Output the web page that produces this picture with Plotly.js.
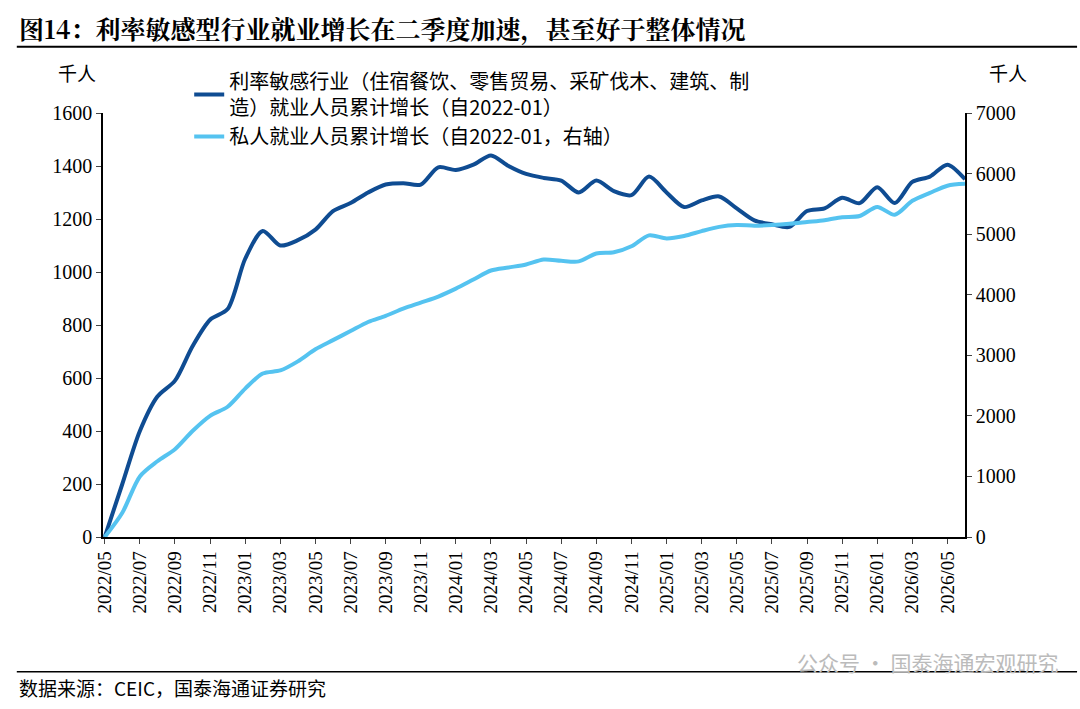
<!DOCTYPE html>
<html><head><meta charset="utf-8">
<script src="https://cdn.plot.ly/plotly-3.0.1.min.js"></script>
<style>body{margin:0;background:#fff}#chart{width:1080px;height:709px}</style>
</head><body><div id="chart"></div>
<script>
// monthly, 2022/05 .. 2026/06
const months = [];
for (let y = 2022, m = 5; y < 2026 || (y === 2026 && m <= 6); m++) {
    if (m > 12) { m = 1; y++; }
    months.push(y + '/' + String(m).padStart(2, '0'));
}
const tickLabels = months.filter((_, i) => i % 2 === 0);

const rateSensitive = [0, 200, 400, 530, 590, 720, 820, 860,
    1050, 1155, 1100, 1120, 1160, 1230, 1260, 1300, 1330, 1335, 1330, 1395,
    1385, 1405, 1440, 1400, 1370, 1355, 1345, 1300, 1345, 1305, 1290, 1360,
    1300, 1245, 1270, 1285, 1240, 1195, 1180, 1170, 1230, 1240, 1280, 1260,
    1320, 1260, 1340, 1360, 1405, 1350];
const privateTotal = [0, 400, 1000, 1250, 1450, 1750, 2000, 2150,
    2450, 2700, 2750, 2900, 3100, 3250, 3400, 3550, 3650, 3770, 3870, 3970,
    4100, 4250, 4400, 4450, 4500, 4580, 4560, 4550, 4680, 4700, 4800, 4980,
    4930, 4970, 5050, 5120, 5150, 5140, 5150, 5170, 5200, 5230, 5280, 5300,
    5450, 5320, 5550, 5680, 5800, 5830];

const font = 'Noto Sans CJK SC, Liberation Serif, serif';

const traces = [
    {x: months, y: rateSensitive, mode: 'lines', name: '利率敏感行业（住宿餐饮、零售贸易、采矿伐木、建筑、制<br>造）就业人员累计增长（自2022-01）',
     line: {color: '#0f4c92', width: 4, shape: 'spline', smoothing: 0.8}},
    {x: months, y: privateTotal, mode: 'lines', name: '私人就业人员累计增长（自2022-01，右轴）', yaxis: 'y2',
     line: {color: '#55c3f0', width: 4, shape: 'spline', smoothing: 0.8}}
];

const layout = {
    width: 1080, height: 709,
    margin: {l: 103, r: 115, t: 113, b: 172},
    paper_bgcolor: '#fff', plot_bgcolor: '#fff',
    font: {family: font, size: 19, color: '#000'},
    showlegend: true,
    legend: {x: 0.1, y: 1.12, xanchor: 'left', yanchor: 'top', bgcolor: 'rgba(0,0,0,0)', font: {size: 20}, tracegroupgap: 4},
    xaxis: {type: 'category', tickvals: tickLabels, ticktext: tickLabels, tickangle: -90,
        showline: true, linecolor: '#000', linewidth: 1.5, ticks: 'outside', ticklen: 5, showgrid: false,
        range: [-0.1, months.length - 1], tickfont: {family: 'Liberation Serif, serif', size: 19}},
    yaxis: {range: [0, 1600], dtick: 200, showline: true, linecolor: '#000', linewidth: 1.5, ticks: 'outside',
        ticklen: 5, showgrid: false, zeroline: false, tickfont: {family: 'Liberation Serif, serif', size: 20}},
    yaxis2: {range: [0, 7000], dtick: 1000, overlaying: 'y', side: 'right', showline: true, linecolor: '#000',
        linewidth: 1.5, ticks: 'outside', ticklen: 5, showgrid: false, zeroline: false,
        tickfont: {family: 'Liberation Serif, serif', size: 20}},
    annotations: [
        {xref: 'paper', yref: 'paper', x: -0.1, y: 0.2, xanchor: 'left', yanchor: 'middle', showarrow: false,
         text: '<b>图14：利率敏感型行业就业增长在二季度加速，甚至好于整体情况</b>', font: {size: 25, family: 'Noto Serif CJK SC, Noto Sans CJK SC, serif'}},
        {xref: 'paper', yref: 'paper', x: -0.03, y: 1.06, xanchor: 'center', yanchor: 'bottom', showarrow: false, text: '千人', font: {size: 19}},
        {xref: 'paper', yref: 'paper', x: 1.05, y: 1.06, xanchor: 'center', yanchor: 'bottom', showarrow: false, text: '千人', font: {size: 19}},
        {xref: 'paper', yref: 'paper', x: -0.1, y: -0.356, xanchor: 'left', yanchor: 'middle', showarrow: false,
         text: '数据来源：CEIC，国泰海通证券研究', font: {size: 19}},
        {xref: 'paper', yref: 'paper', x: 1.11, y: -0.295, xanchor: 'right', yanchor: 'middle', showarrow: false,
         text: '公众号 · 国泰海通宏观研究', font: {size: 21, color: '#bbbbbb'}}
    ],
    shapes: [
        {type: 'line', xref: 'paper', yref: 'paper', x0: -0.1, x1: 1.13, y0: 1.156, y1: 1.156, line: {color: '#000', width: 2}},
        {type: 'line', xref: 'paper', yref: 'paper', x0: -0.1, x1: 1.13, y0: -0.318, y1: -0.318, line: {color: '#000', width: 1.5}}
    ]
};
layout.annotations[0].y = 1.2;

Plotly.newPlot('chart', traces, layout, {displayModeBar: false});
</script></body></html>
